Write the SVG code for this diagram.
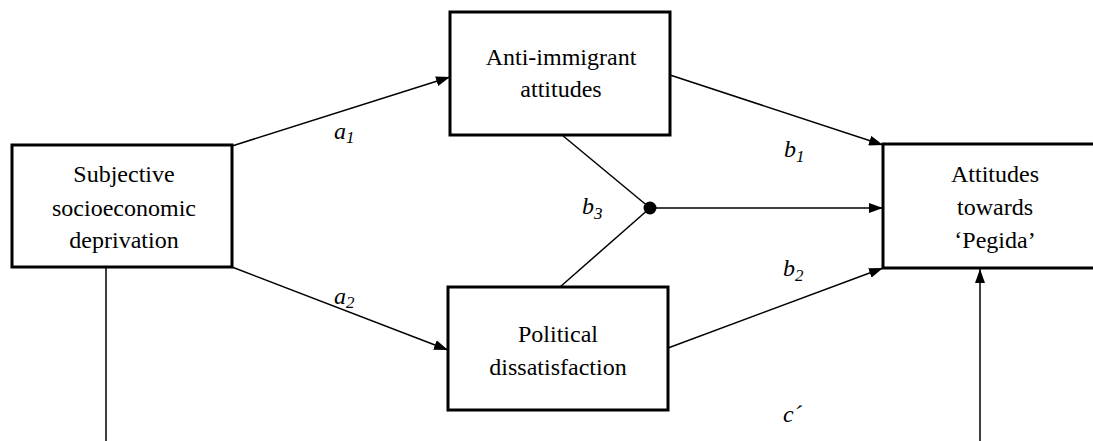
<svg xmlns="http://www.w3.org/2000/svg" width="1093" height="441" viewBox="0 0 1093 441">
<defs>
<style>
.box{fill:#fff;stroke:#000;stroke-width:3}
.ln{stroke:#000;stroke-width:1.5;fill:none}
</style>
<marker id="ah" viewBox="0 0 14 10" refX="14" refY="5" markerWidth="14" markerHeight="10" markerUnits="userSpaceOnUse" orient="auto">
<path d="M0,0 L14,5 L0,10 Z" fill="#000"/>
</marker>
</defs>
<rect width="1093" height="441" fill="#fff"/>
<g id="connectors">
<line class="ln" x1="232" y1="146" x2="450" y2="77" marker-end="url(#ah)"/>
<line class="ln" x1="232" y1="267" x2="448" y2="350" marker-end="url(#ah)"/>
<line class="ln" x1="670" y1="75" x2="883" y2="145" marker-end="url(#ah)"/>
<line class="ln" x1="668" y1="348" x2="883" y2="268" marker-end="url(#ah)"/>
<line class="ln" x1="562" y1="135" x2="650" y2="208"/>
<line class="ln" x1="560" y1="287" x2="650" y2="208"/>
<line class="ln" x1="650" y1="208" x2="883" y2="208" marker-end="url(#ah)"/>
<circle cx="650" cy="208" r="6.5" fill="#000"/>
<line class="ln" x1="106" y1="267" x2="106" y2="441"/>
<line class="ln" x1="980" y1="441" x2="980" y2="269" marker-end="url(#ah)"/>
<g font-family="Liberation Serif, serif" font-size="24" font-style="italic" fill="#000">
<text x="334" y="139">a<tspan font-size="17" dy="4">1</tspan></text>
<text x="334" y="304">a<tspan font-size="17" dy="4">2</tspan></text>
<text x="784" y="157">b<tspan font-size="17" dy="5">1</tspan></text>
<text x="783" y="276">b<tspan font-size="17" dy="5">2</tspan></text>
<text x="582" y="214">b<tspan font-size="17" dy="5">3</tspan></text>
<text x="783" y="422">c´</text>
</g>
</g>
<g font-family="Liberation Serif, serif" font-size="24" fill="#000" text-anchor="middle">
<g id="node-deprivation">
<rect class="box" x="12" y="145" width="220" height="122"/>
<text x="124" y="182">Subjective</text>
<text x="124" y="216">socioeconomic</text>
<text x="124" y="248">deprivation</text>
</g>
<g id="node-anti">
<rect class="box" x="450" y="12" width="220" height="123"/>
<text x="561" y="65">Anti-immigrant</text>
<text x="561" y="97">attitudes</text>
</g>
<g id="node-political">
<rect class="box" x="448" y="287" width="220" height="123"/>
<text x="558" y="342">Political</text>
<text x="558" y="375">dissatisfaction</text>
</g>
<g id="node-pegida">
<rect class="box" x="883" y="144" width="230" height="124"/>
<text x="995" y="182">Attitudes</text>
<text x="995" y="215">towards</text>
<text x="995" y="248">‘Pegida’</text>
</g>
</g>
</svg>
